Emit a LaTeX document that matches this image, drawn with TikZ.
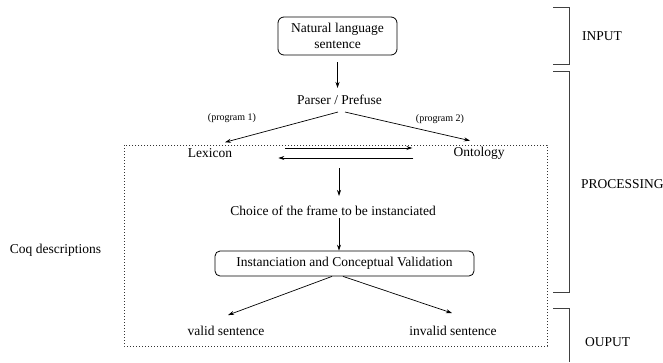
\documentclass[tikz,border=0pt]{standalone}
\usepackage{fontspec}
\setmainfont{Liberation Serif}
\usetikzlibrary{positioning, arrows.meta, calc}
\tikzset{
  txt/.style={inner sep=0pt, font=\fontsize{13.5}{15.5}\selectfont},
  small/.style={inner sep=0pt, font=\fontsize{10}{12}\selectfont},
  box/.style={draw, rounded corners=6pt, align=center, inner sep=0pt,
              font=\fontsize{13.5}{15.5}\selectfont, line width=0.8pt},
  arr/.style={-{Stealth[length=6pt, width=4pt]}, line width=0.7pt},
  brace/.style={line width=0.9pt, draw=black!75},
  frame/.style={line width=0.7pt, dash pattern=on 0.8pt off 2.2pt, draw=black!80}
}

\begin{document}
\begin{tikzpicture}[x=1pt, y=-1pt]
  \useasboundingbox (0,0) rectangle (663,362);

  % ----- input sentence and parser -----
  \node[box, minimum width=119pt, minimum height=38pt] (nat) at (337.5,36)
    {Natural language\\sentence};
  \node[txt] (parser) at (339.5,100) {Parser / Prefuse};
  \node[small] (prog1) at (232,118) {(program 1)};
  \node[small] (prog2) at (440,119) {(program 2)};

  % ----- Coq part -----
  \node[txt] (lex) at (210,153) {Lexicon};
  \node[txt] (onto) at (479,153) {Ontology};
  \coordinate (mid) at (339,168);
  \node[txt] (choice) at (333,211) {Choice of the frame to be instanciated};
  \node[box, rounded corners=5pt, minimum width=259pt, minimum height=25pt]
    (inst) at (344.5,263.5) {Instanciation and Conceptual Validation};
  \node[txt] (valid) at (226,331) {valid sentence};
  \node[txt] (invalid) at (453,331) {invalid sentence};
  \node[txt] (coq) at (55.5,250) {Coq descriptions};

  % dotted frame round the Coq descriptions
  \draw[frame] (124,145) rectangle (547,346);

  % ----- arrows -----
  \draw[arr] ([yshift=-7pt]nat.south) -- ([yshift=7pt]parser.north -| nat.south);
  \draw[arr] ([xshift=-1.5pt,yshift=-7pt]parser.south) -- ([xshift=15pt,yshift=6pt]lex.north);
  \draw[arr] ([xshift=5.5pt,yshift=-7pt]parser.south) -- ([xshift=-9pt,yshift=6pt]onto.north);
  \draw[arr] ([xshift=53pt,yshift=5pt]lex.east) -- ([xshift=-41pt,yshift=5pt]onto.west);
  \draw[arr] ([xshift=-40pt,yshift=-5pt]onto.west) -- ([xshift=46pt,yshift=-5pt]lex.east);
  \draw[arr] (mid) -- ([yshift=10pt]choice.north -| mid);
  \draw[arr] ([yshift=-2pt]choice.south -| mid) -- (inst.north -| mid);
  \draw[arr] ([xshift=-12.5pt]inst.south) -- ([xshift=2pt,yshift=11pt]valid.north);
  \draw[arr] ([xshift=-1.5pt]inst.south) -- ([xshift=-1pt,yshift=13pt]invalid.north);

  % ----- stage brackets -----
  \draw[brace] (553,7) -- (569,7) -- (569,64) -- (553,64);
  \draw[brace] (553,71) -- (569,71) -- (569,292) -- (553,292);
  \draw[brace] (553,308) -- (569,308) -- (569,362);
  \node[txt, anchor=west] (input) at (582,36) {INPUT};
  \node[txt, anchor=west] (proc) at (581,184) {PROCESSING};
  \node[txt, anchor=west] (output) at (585,342) {OUPUT};

\end{tikzpicture}
\end{document}
